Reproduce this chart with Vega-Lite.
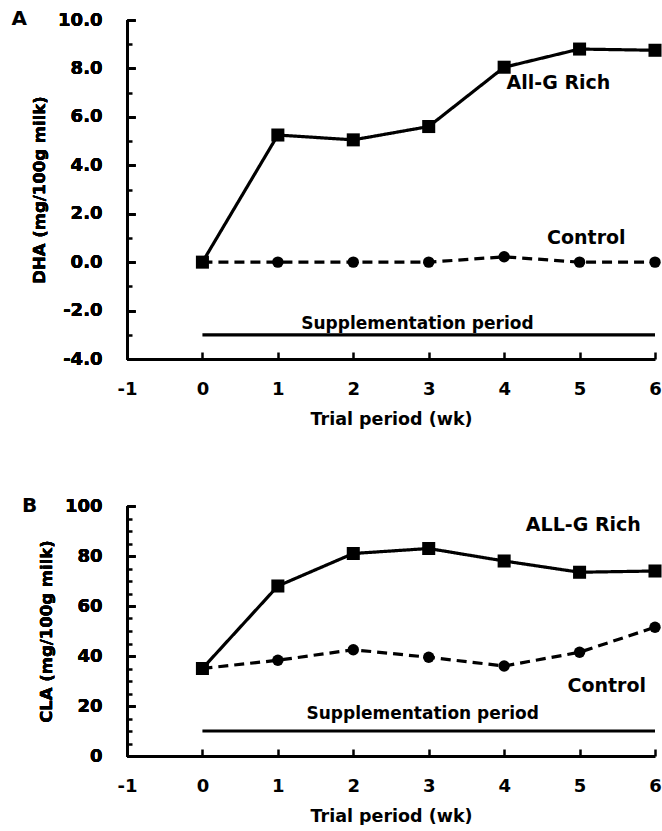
{
  "$schema": "https://vega.github.io/schema/vega-lite/v6.json",
  "padding": {"left": 11, "top": 8, "right": 0, "bottom": 0},
  "spacing": 68,
  "config": {
    "view": {"stroke": null},
    "font": "DejaVu Sans",
    "axis": {
      "domainColor": "black", "domainWidth": 3, "tickColor": "black", "tickWidth": 2.5,
      "labelFont": "DejaVu Sans", "labelFontWeight": "bold", "labelFontSize": 18, "labelColor": "black",
      "labelExpr": "replace(datum.label, '\u2212', '-')", "labelFlush": false,
      "titleFont": "DejaVu Sans", "titleFontWeight": "bold", "titleColor": "black", "grid": false
    }
  },
  "datasets": {
    "dha": [
      {"week": 0, "value": 0, "series": "AllG"},
      {"week": 1, "value": 5.25, "series": "AllG"},
      {"week": 2, "value": 5.05, "series": "AllG"},
      {"week": 3, "value": 5.6, "series": "AllG"},
      {"week": 4, "value": 8.05, "series": "AllG"},
      {"week": 5, "value": 8.8, "series": "AllG"},
      {"week": 6, "value": 8.75, "series": "AllG"},
      {"week": 0, "value": 0, "series": "Control"},
      {"week": 1, "value": 0, "series": "Control"},
      {"week": 2, "value": 0, "series": "Control"},
      {"week": 3, "value": 0, "series": "Control"},
      {"week": 4, "value": 0.22, "series": "Control"},
      {"week": 5, "value": 0, "series": "Control"},
      {"week": 6, "value": 0, "series": "Control"}
    ],
    "cla": [
      {"week": 0, "value": 35, "series": "AllG"},
      {"week": 1, "value": 68, "series": "AllG"},
      {"week": 2, "value": 81, "series": "AllG"},
      {"week": 3, "value": 83, "series": "AllG"},
      {"week": 4, "value": 78, "series": "AllG"},
      {"week": 5, "value": 73.5, "series": "AllG"},
      {"week": 6, "value": 74, "series": "AllG"},
      {"week": 0, "value": 35, "series": "Control"},
      {"week": 1, "value": 38.3, "series": "Control"},
      {"week": 2, "value": 42.5, "series": "Control"},
      {"week": 3, "value": 39.5, "series": "Control"},
      {"week": 4, "value": 36, "series": "Control"},
      {"week": 5, "value": 41.5, "series": "Control"},
      {"week": 6, "value": 51.5, "series": "Control"}
    ]
  },
  "vconcat": [
    {
      "width": 528, "height": 339,
      "encoding": {
        "x": {"field": "week", "type": "quantitative", "scale": {"domain": [-1, 6], "nice": false},
          "axis": {"values": [-1, 0, 1, 2, 3, 4, 5, 6], "tickSize": -7, "labelPadding": 28, "title": "Trial period (wk)", "titleFontSize": 17.5, "titlePadding": 12}},
        "y": {"field": "value", "type": "quantitative", "scale": {"domain": [-4, 10], "nice": false, "zero": false},
          "axis": {"orient": "left", "values": [-4, -2, 0, 2, 4, 6, 8, 10], "format": ".1f", "tickSize": -8, "labelPadding": 33, "title": "DHA (mg/100g milk)", "titleFontSize": 16.5, "titlePadding": 10}}
      },
      "layer": [
        {
          "data": {"values": [{"week": 0, "week2": 6, "value": -3}]},
          "mark": {"type": "rule", "color": "black", "strokeWidth": 3.2},
          "encoding": {
            "x2": {"field": "week2"},
            "y": {"field": "value", "type": "quantitative", "scale": {"domain": [-4, 10], "nice": false, "zero": false},
              "axis": {"orient": "left", "values": [-3, -1, 1, 3, 5, 7, 9], "tickSize": -5, "labels": false, "domain": false, "title": null}}
          }
        },
        {
          "data": {"name": "dha"},
          "mark": {"type": "line", "color": "black", "strokeWidth": 3.2},
          "encoding": {
            "detail": {"field": "series"},
            "strokeDash": {"field": "series", "type": "nominal", "scale": {"domain": ["AllG", "Control"], "range": [[1, 0], [10, 6]]}, "legend": null}
          }
        },
        {
          "data": {"name": "dha"},
          "mark": {"type": "point", "filled": true, "color": "black", "opacity": 1},
          "encoding": {
            "shape": {"field": "series", "type": "nominal", "scale": {"domain": ["AllG", "Control"], "range": ["square", "circle"]}, "legend": null},
            "size": {"field": "series", "type": "nominal", "scale": {"domain": ["AllG", "Control"], "range": [170, 130]}, "legend": null},
            "order": {"field": "series", "sort": "descending"}
          }
        },
        {
          "data": {"values": [{"label": "All-G Rich", "week": 4.72, "value": 7.4}, {"label": "Control", "week": 5.09, "value": 1.0}]},
          "mark": {"type": "text", "font": "DejaVu Sans", "fontWeight": "bold", "fontSize": 19, "color": "black"},
          "encoding": {"text": {"field": "label"}}
        },
        {
          "data": {"values": [{"label": "Supplementation period", "week": 2.85, "value": -2.55}]},
          "mark": {"type": "text", "font": "DejaVu Sans", "fontWeight": "bold", "fontSize": 17, "color": "black"},
          "encoding": {"text": {"field": "label"}}
        },
        {
          "data": {"values": [{"label": "A", "week": -2.43, "value": 10.05}]},
          "mark": {"type": "text", "font": "DejaVu Sans", "fontWeight": "bold", "fontSize": 20, "color": "black"},
          "encoding": {"text": {"field": "label"}}
        }
      ],
      "resolve": {"axis": {"y": "independent"}}
    },
    {
      "width": 528, "height": 250,
      "encoding": {
        "x": {"field": "week", "type": "quantitative", "scale": {"domain": [-1, 6], "nice": false},
          "axis": {"values": [-1, 0, 1, 2, 3, 4, 5, 6], "tickSize": -7, "labelPadding": 28, "title": "Trial period (wk)", "titleFontSize": 17.5, "titlePadding": 12}},
        "y": {"field": "value", "type": "quantitative", "scale": {"domain": [0, 100], "nice": false},
          "axis": {"orient": "left", "values": [0, 20, 40, 60, 80, 100], "tickSize": -8, "labelPadding": 33, "title": "CLA (mg/100g milk)", "titleFontSize": 16.5, "titlePadding": 10}}
      },
      "layer": [
        {
          "data": {"values": [{"week": 0, "week2": 6, "value": 10}]},
          "mark": {"type": "rule", "color": "black", "strokeWidth": 3.2},
          "encoding": {
            "x2": {"field": "week2"},
            "y": {"field": "value", "type": "quantitative", "scale": {"domain": [0, 100], "nice": false},
              "axis": {"orient": "left", "values": [5, 10, 15, 25, 30, 35, 45, 50, 55, 65, 70, 75, 85, 90, 95], "tickSize": -5, "labels": false, "domain": false, "title": null}}
          }
        },
        {
          "data": {"name": "cla"},
          "mark": {"type": "line", "color": "black", "strokeWidth": 3.2},
          "encoding": {
            "detail": {"field": "series"},
            "strokeDash": {"field": "series", "type": "nominal", "scale": {"domain": ["AllG", "Control"], "range": [[1, 0], [10, 6]]}, "legend": null}
          }
        },
        {
          "data": {"name": "cla"},
          "mark": {"type": "point", "filled": true, "color": "black", "opacity": 1},
          "encoding": {
            "shape": {"field": "series", "type": "nominal", "scale": {"domain": ["AllG", "Control"], "range": ["square", "circle"]}, "legend": null},
            "size": {"field": "series", "type": "nominal", "scale": {"domain": ["AllG", "Control"], "range": [170, 130]}, "legend": null},
            "order": {"field": "series", "sort": "descending"}
          }
        },
        {
          "data": {"values": [{"label": "ALL-G Rich", "week": 5.05, "value": 92.4}, {"label": "Control", "week": 5.36, "value": 28.1}]},
          "mark": {"type": "text", "font": "DejaVu Sans", "fontWeight": "bold", "fontSize": 19, "color": "black"},
          "encoding": {"text": {"field": "label"}}
        },
        {
          "data": {"values": [{"label": "Supplementation period", "week": 2.92, "value": 16.9}]},
          "mark": {"type": "text", "font": "DejaVu Sans", "fontWeight": "bold", "fontSize": 17, "color": "black"},
          "encoding": {"text": {"field": "label"}}
        },
        {
          "data": {"values": [{"label": "B", "week": -2.29, "value": 100}]},
          "mark": {"type": "text", "font": "DejaVu Sans", "fontWeight": "bold", "fontSize": 20, "color": "black"},
          "encoding": {"text": {"field": "label"}}
        }
      ],
      "resolve": {"axis": {"y": "independent"}}
    }
  ]
}
